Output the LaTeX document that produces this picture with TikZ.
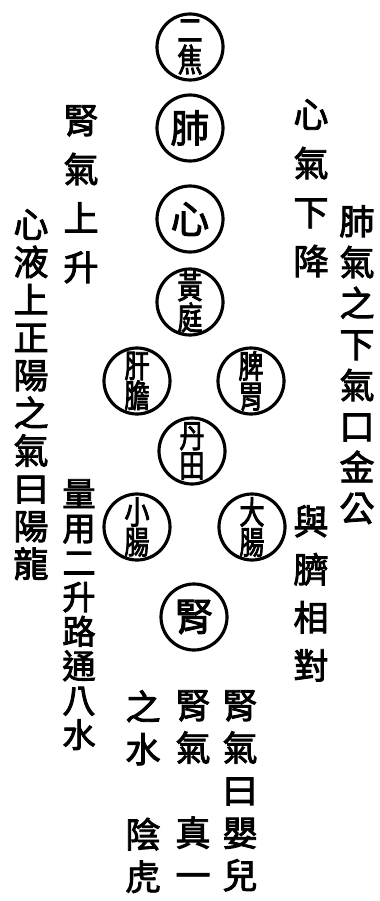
\documentclass[tikz,border=0pt]{standalone}
\usepackage{fontspec}
\newfontfamily\cjk[FakeBold=2.5]{Noto Sans CJK TC}
\newfontfamily\cjknarrow[FakeBold=2.5,FakeStretch=0.78]{Noto Sans CJK TC}
\usetikzlibrary{positioning}

\begin{document}
\begin{tikzpicture}[
  x=0.03cm, y=-0.03cm,
  organ/.style={circle, draw=black, line width=2.7pt, minimum size=1.98cm,
    inner sep=0pt, align=center, font=\cjk\fontsize{33pt}{33pt}\selectfont},
  organtwo/.style={organ, font=\cjknarrow\fontsize{27.5pt}{25.5pt}\selectfont},
  col/.style={anchor=north, inner sep=0pt, align=center},
  wide/.style={col, font=\cjk\fontsize{30pt}{41.8pt}\selectfont},
  mid/.style={col, font=\cjk\fontsize{30pt}{35pt}\selectfont},
  tight/.style={col, font=\cjk\fontsize{30pt}{32.2pt}\selectfont},
  dense/.style={col, font=\cjk\fontsize{28.5pt}{29.4pt}\selectfont},
  low/.style={col, font=\cjk\fontsize{30pt}{36.3pt}\selectfont}
]
\useasboundingbox (0,0) rectangle (379,901);
% Central column of organs
\node[organtwo] (sanjiao) at (190,47)  {二\\焦};
\node[organ]    (fei)     at (190,128) {肺};
\node[organ]    (xin)     at (190,219) {心};
\node[organtwo] (huang)   at (190,302) {黃\\庭};
\node[organtwo] (gandan)  at (137,381) {肝\\膽};
\node[organtwo] (piwei)   at (251,381) {脾\\胃};
\node[organtwo] (dantian) at (192,451) {丹\\田};
\node[organtwo] (xiaoc)   at (137,527) {小\\腸};
\node[organtwo] (dac)     at (252,527) {大\\腸};
\node[organ]    (shen)    at (194,617) {腎};
% Left columns
\node[wide]  (shenup)   at (81,105)  {腎\\氣\\上\\升};
\node[tight] (xinye)    at (31,209)  {心\\液\\上\\正\\陽\\之\\氣\\曰\\陽\\龍};
\node[dense] (liang)    at (79,479)  {量\\用\\二\\升\\路\\通\\八\\水};
% Right columns
\node[wide]  (xindown)  at (311,99)  {心\\氣\\下\\降};
\node[mid]   (feiqi)    at (357,205) {肺\\氣\\之\\下\\氣\\口\\金\\公};
\node[wide, font=\cjk\fontsize{30pt}{41pt}\selectfont] (qi) at (311,505) {與\\臍\\相\\對};
% Bottom columns
\node[low] (yinger) at (240,690) {腎\\氣\\曰\\嬰\\兒};
\node[low] (zhenyi) at (193,690) {腎\\氣\\\mbox{}\\真\\一};
\node[low] (yinhu)  at (143,690) {之\\水\\\mbox{}\\陰\\虎};
\end{tikzpicture}
\end{document}
